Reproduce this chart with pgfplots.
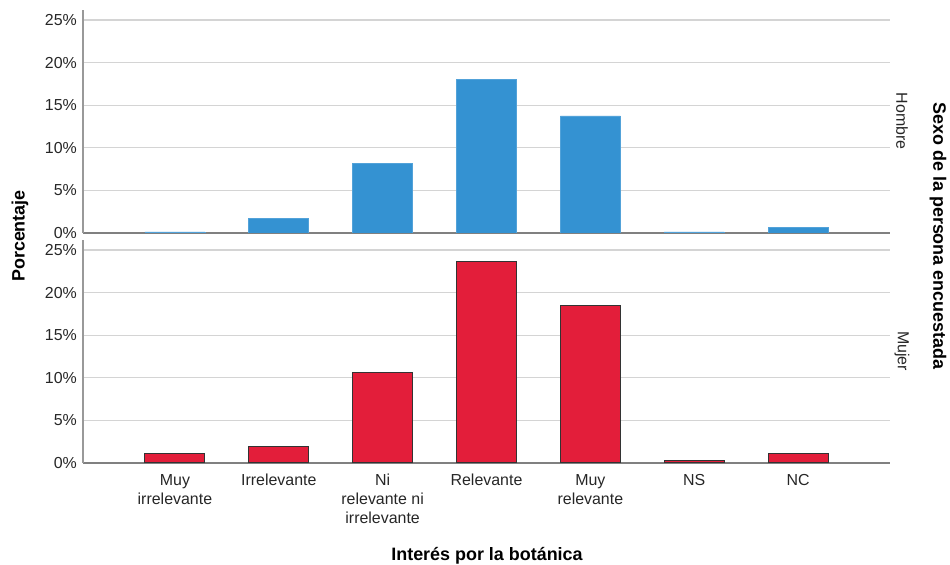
\documentclass[border=0pt]{standalone}
\usepackage{pgfplots}
\pgfplotsset{compat=1.18}
\usepackage{fontspec}
\setmainfont{Liberation Sans}
\definecolor{hblue}{RGB}{52,146,210}
\definecolor{mred}{RGB}{227,30,58}
\pgfplotstableread{
x h m
0 0.12 1.06
1 1.73 1.96
2 8.19 10.59
3 18.03 23.60
4 13.74 18.43
5 0.12 0.35
6 0.67 1.06
}\datatable
\begin{document}
\begin{tikzpicture}
\path (0bp,0bp) rectangle (950bp,563bp);
\pgfplotsset{
  panel/.style={
    scale only axis, width=807bp, height=223bp,
    xmin=-0.885, xmax=6.885, ymin=0, ymax=26.17,
    ytick={0,5,10,15,20,25},
    yticklabel={\pgfmathprintnumber{\tick}\%},
    ymajorgrids, grid style={draw=black!17, line width=1.2bp},
    axis x line*=bottom, axis y line*=left,
    x axis line style={draw=black!50, line width=1.5bp, -},
    y axis line style={draw=black!40, line width=1.5bp, -},
    major tick length=0,
    tick label style={font=\fontsize{16}{19}\selectfont, text=black!85},
    yticklabel style={anchor=east, inner sep=0pt, xshift=-6bp},
    xtick={0,...,6},
    ybar, bar width=60bp,
    /pgf/number format/assume math mode=true,
  }
}
\begin{axis}[panel, at={(83bp,330bp)}, anchor=south west, xticklabels={}]
\addplot[fill=hblue, draw=hblue!85!white, line width=0.8bp] table[x=x, y=h] {\datatable};
\end{axis}
\begin{axis}[panel, at={(83bp,100bp)}, anchor=south west,
  xticklabels={{Muy\\irrelevante},{Irrelevante},{Ni\\relevante ni\\irrelevante},{Relevante},{Muy\\relevante},{NS},{NC}},
  xticklabel style={align=center, anchor=north, inner sep=0pt, yshift=-11bp}]
\addplot[fill=mred, draw=black!80, line width=1bp] table[x=x, y=m] {\datatable};
\end{axis}
\node[rotate=90, font=\bfseries\fontsize{18}{20}\selectfont] at (20bp,327bp) {Porcentaje};
\node[rotate=-90, font=\bfseries\fontsize{18}{20}\selectfont] at (938bp,327bp) {Sexo de la persona encuestada};
\node[rotate=-90, font=\fontsize{16}{19}\selectfont, text=black!85] at (902bp,442bp) {Hombre};
\node[rotate=-90, font=\fontsize{16}{19}\selectfont, text=black!85] at (902bp,212bp) {Mujer};
\node[anchor=base, inner sep=0pt, font=\bfseries\fontsize{18}{20}\selectfont] at (487bp,2bp) {Interés por la botánica};
\end{tikzpicture}
\end{document}
